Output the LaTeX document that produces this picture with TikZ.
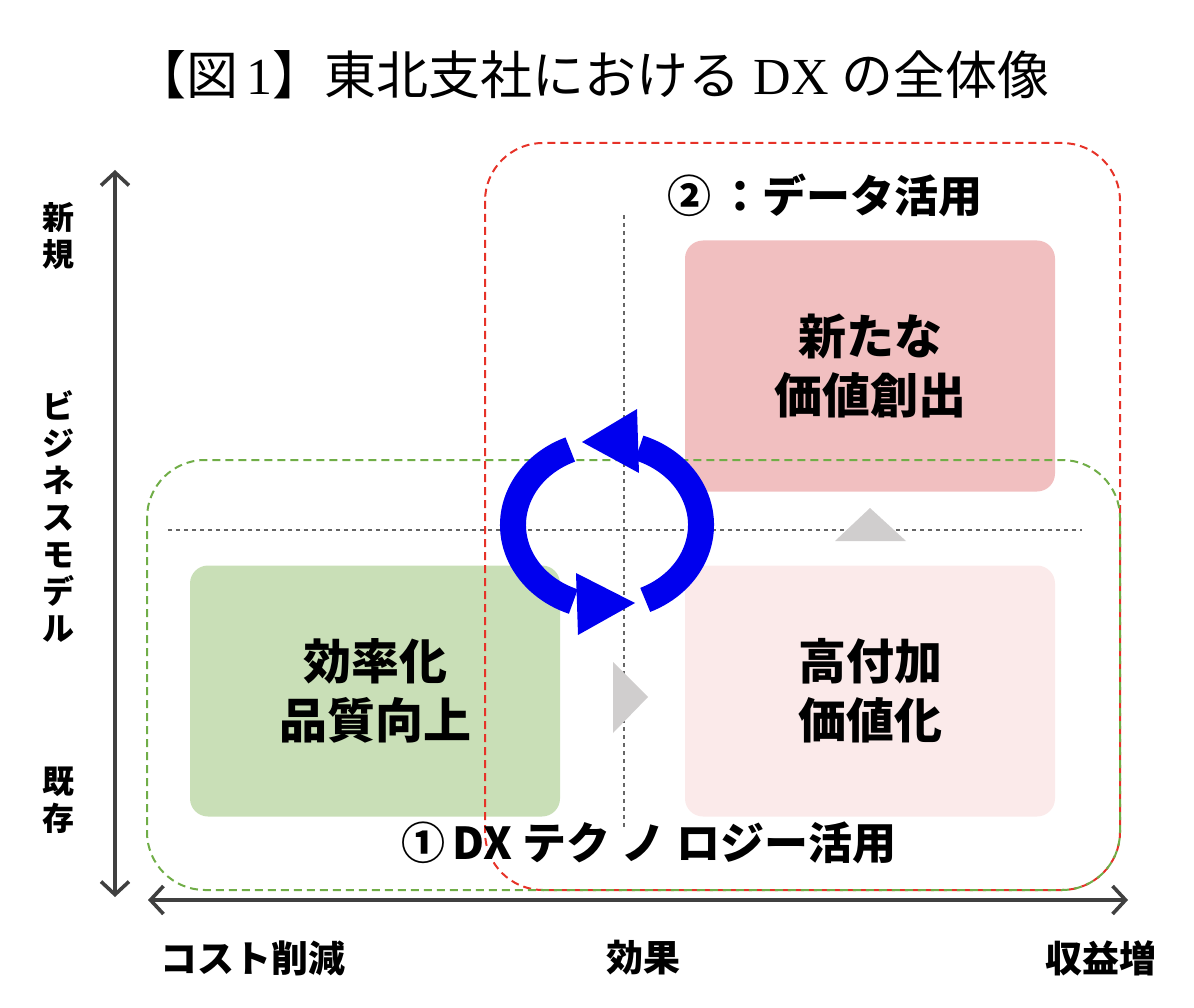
\documentclass[tikz,border=0pt]{standalone}
\usepackage{fontspec}
\setmainfont{Noto Sans CJK JP}
\newfontfamily\latinserif{Liberation Serif}
\usetikzlibrary{arrows.meta,positioning}

\definecolor{axisgray}{RGB}{64,64,64}
\definecolor{zonered}{RGB}{230,50,40}
\definecolor{zonegreen}{RGB}{112,173,71}
\definecolor{boxgreen}{RGB}{201,223,183}
\definecolor{boxpink}{RGB}{241,191,192}
\definecolor{boxlight}{RGB}{251,234,234}
\definecolor{markgray}{RGB}{208,206,206}
\definecolor{cycleblue}{RGB}{0,0,238}

\tikzset{
  quadbox/.style={rounded corners=18pt, minimum width=370pt, minimum height=251pt,
    inner sep=0pt, align=center, font=\fontsize{48pt}{59pt}\selectfont\bfseries},
  zone/.style={line width=2pt, rounded corners=58pt, dash pattern=on 8pt off 5pt},
  guide/.style={line width=1.3pt, gray!80!black, dash pattern=on 4pt off 4pt},
  axis/.style={line width=3.6pt, axisgray,
    {Straight Barb[length=13pt,width=28pt]}-{Straight Barb[length=13pt,width=28pt]}},
  vlabel/.style={align=center, font=\fontsize{32pt}{37pt}\selectfont\bfseries},
  hlabel/.style={font=\fontsize{37pt}{42pt}\selectfont\bfseries},
  zonelabel/.style={font=\fontsize{44pt}{50pt}\selectfont\bfseries},
  marker/.style={fill=markgray, draw=none},
  cycle/.style={line width=26pt, cycleblue},
}

\begin{document}
\begin{tikzpicture}[x=1pt, y=-1pt]
  \useasboundingbox (0,0) rectangle (1194,1008);

  % タイトル
  \node (title) at (592,75) {\fontsize{52pt}{58pt}\selectfont 【図\,{\latinserif 1}】東北支社における{\latinserif\ DX }の全体像};

  % 四つの領域
  \node[quadbox, fill=boxgreen] (effic) at (375,691) {効率化\\品質向上};
  \node[quadbox, fill=boxlight] (addval) at (870,691) {高付加\\価値化};
  \node[quadbox, fill=boxpink] (newval) at (870,366) {新たな\\価値創出};

  % 活用範囲（破線の枠）
  \draw[zone, zonered] (485,143) rectangle (1120,890);
  \draw[zone, zonegreen] (147,460) rectangle (1120,890);

  % 補助線
  \draw[guide] (624,215) -- (624,830);
  \draw[guide] (168,530) -- (1082,530);

  % 灰色の三角
  \fill[marker] (835,541) -- (870,508) -- (906,541) -- cycle;
  \fill[marker] (613,662) -- (648,697) -- (613,733) -- cycle;

  % 循環矢印
  \coordinate (cyc) at (607,525);
  \draw[cycle] (cyc) ++(66:94 and 82) arc[start angle=66, end angle=-70, x radius=94, y radius=82];
  \fill[cycleblue] (637,409) -- (582,442) -- (639,473) -- cycle;
  \draw[cycle] (cyc) ++(-113:94 and 82) arc[start angle=-113, end angle=-249, x radius=94, y radius=82];
  \fill[cycleblue] (576,573) -- (635,603) -- (578,635) -- cycle;

  % 軸
  \coordinate (ytop) at (115,170);
  \coordinate (ybot) at (115,897);
  \coordinate (xleft) at (148,900);
  \coordinate (xright) at (1128,900);
  \draw[axis] (ybot) -- (ytop);
  \draw[axis] (xleft) -- (xright);

  % 軸ラベル
  \node[vlabel] (newbiz) at (58,236) {新\\規};
  \node[vlabel] (bizmodel) at (58,516) {ビ\\ジ\\ネ\\ス\\モ\\デ\\ル};
  \node[vlabel] (oldbiz) at (58,800) {既\\存};
  \node[hlabel] (cost) at (253,958) {コスト削減};
  \node[hlabel] (effect) at (643,958) {効果};
  \node[hlabel] (revenue) at (1101,958) {収益増};

  % 枠のラベル
  \node[zonelabel] (datalbl) at (825,195) {②\,：データ活用};
  \node[zonelabel] (dxlbl) at (649,843) {①\,DX テク\hspace{0.25em}ノ\hspace{0.25em}ロジー活用};
\end{tikzpicture}
\end{document}
